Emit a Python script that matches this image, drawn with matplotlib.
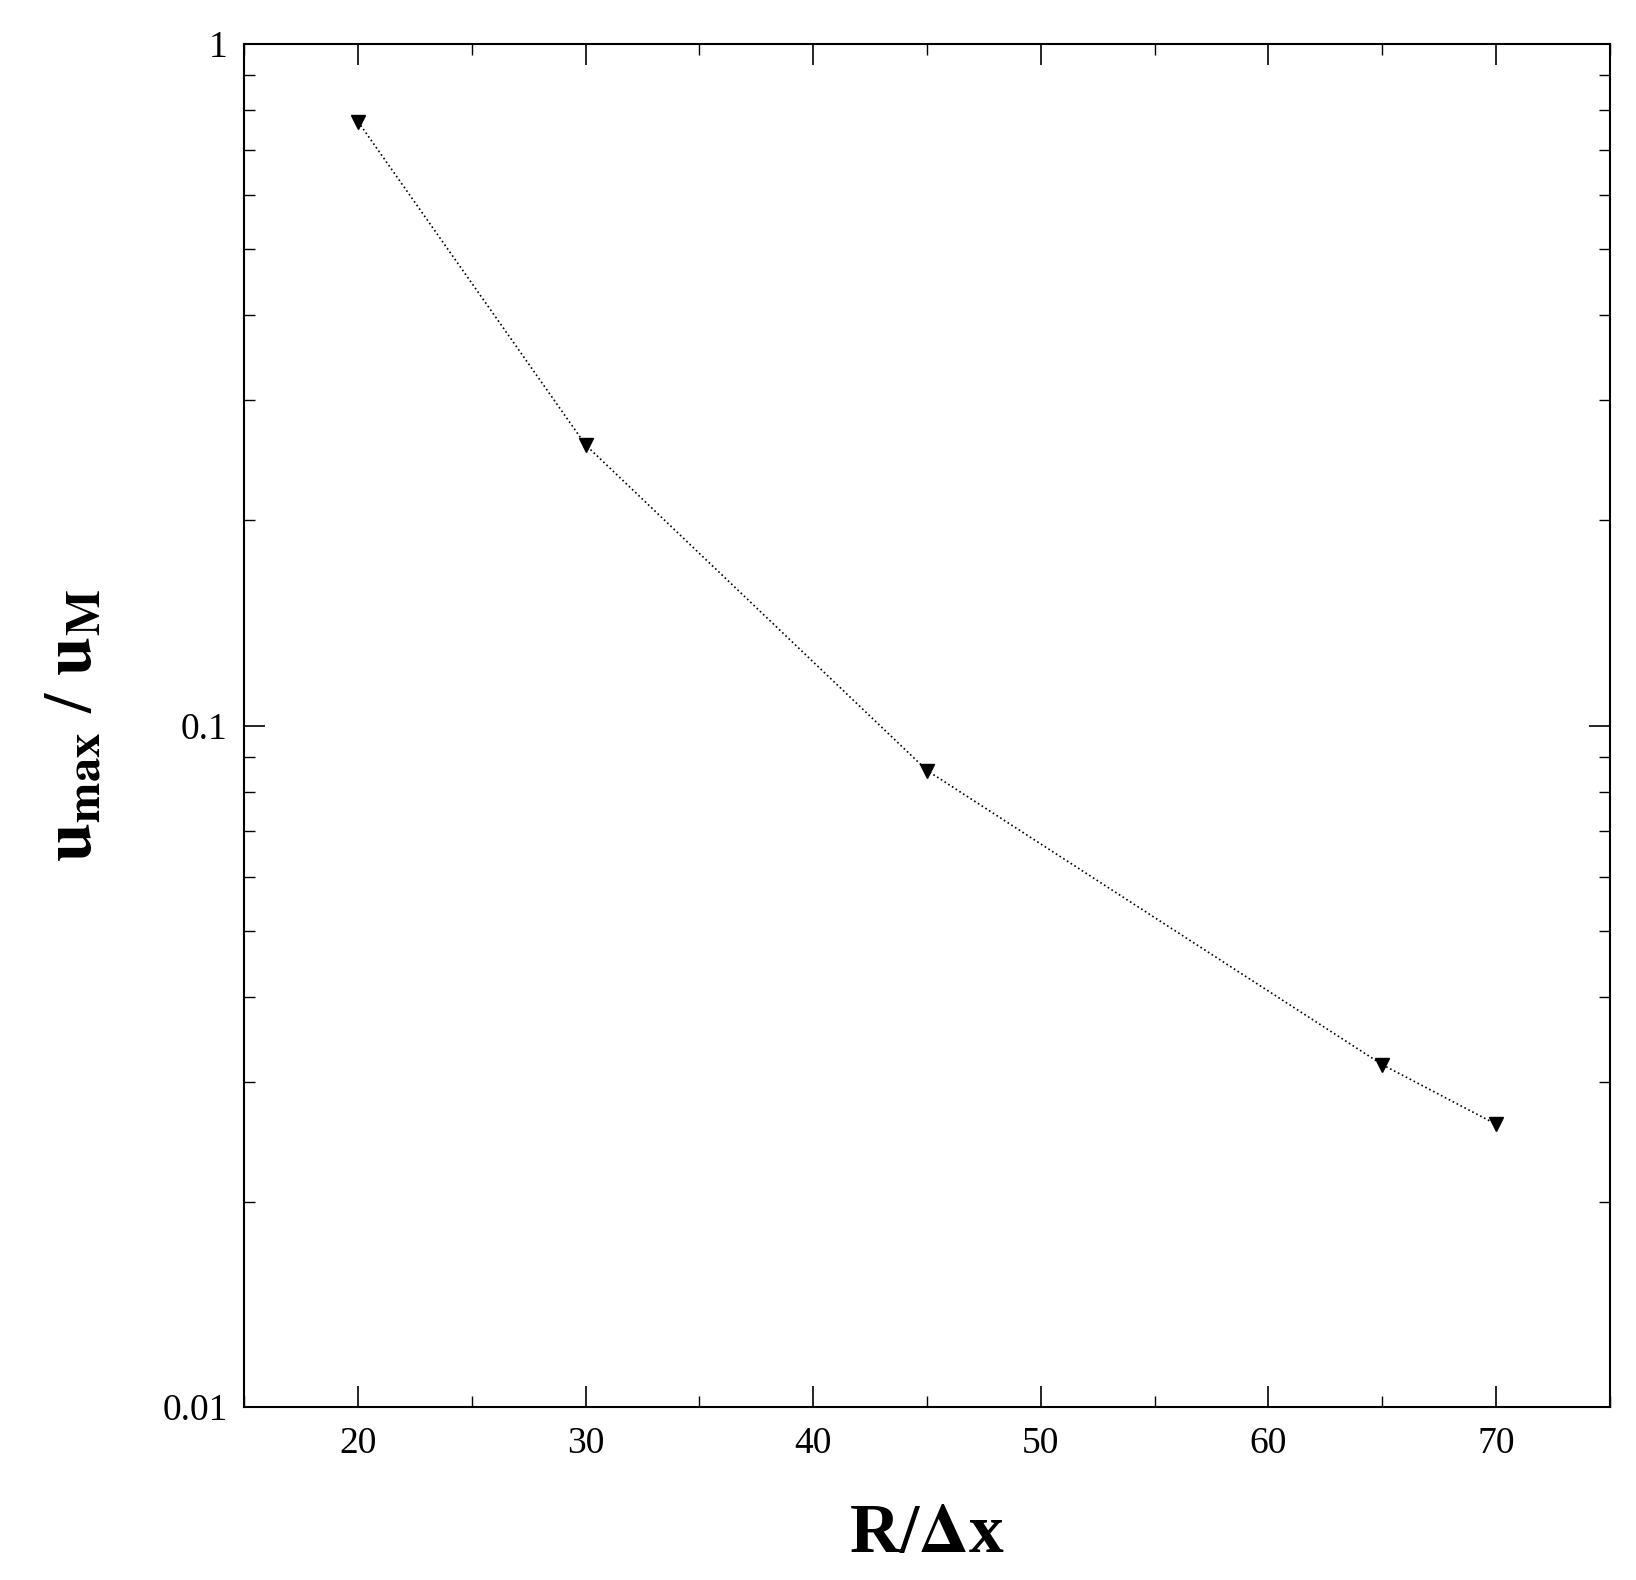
import matplotlib
matplotlib.use("Agg")
import matplotlib.pyplot as plt
from matplotlib.ticker import MultipleLocator

r_dx = [20, 30, 45, 65, 70]
u_ratio = [0.769, 0.258, 0.0859, 0.0318, 0.026]

plt.rcParams['font.family'] = ['Liberation Serif', 'DejaVu Serif']
plt.rcParams['mathtext.fontset'] = 'stix'
W, H = 1560, 1507
fig = plt.figure(figsize=(16.36, 15.80), dpi=100)
ax = fig.add_axes([233/W, 1-1342/H, (1535-233)/W, (1342-42)/H])
ax.plot(r_dx, u_ratio, linestyle=':', color='black', linewidth=1.2,
        marker='v', markersize=10, markerfacecolor='black')
ax.set_yscale('log')
ax.set_xlim(15, 75)
ax.set_ylim(0.01, 1)
ax.set_yticks([0.01, 0.1, 1])
ax.set_yticklabels(['0.01', '0.1', '1'])
ax.xaxis.set_minor_locator(MultipleLocator(5))
ax.set_xticks([20, 30, 40, 50, 60, 70])
ax.tick_params(which='both', direction='in', top=True, right=True, labelsize=27)
ax.tick_params(which='major', length=15, width=1.2)
ax.tick_params(which='minor', length=8, width=1)
ax.tick_params(axis='x', pad=14)
ax.tick_params(axis='y', pad=12)
for s in ax.spines.values():
    s.set_linewidth(1.5)
ax.set_xlabel(r'R/$\mathbf{\Delta}$x', fontsize=50, fontweight='bold', labelpad=30)
ax.set_ylabel(r'$\mathbf{u_{max}}$ / $\mathbf{u_{M}}$', fontsize=50, fontweight='bold', labelpad=40)
fig.savefig('out.png', dpi=100)
